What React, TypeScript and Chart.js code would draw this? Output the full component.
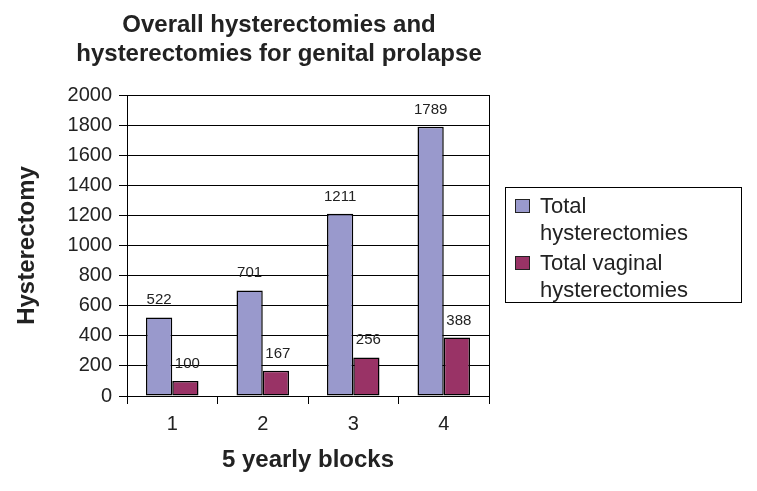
import React, { useEffect, useRef } from "react";
import { Chart, registerables } from "chart.js";

Chart.register(...registerables);

const categories = ["1", "2", "3", "4"];
const totalHysterectomies = [522, 701, 1211, 1789];
const totalVaginal = [100, 167, 256, 388];
const seriesNames = ["Total hysterectomies", "Total vaginal hysterectomies"];
const legendLines = [["Total", "hysterectomies"], ["Total vaginal", "hysterectomies"]];
const titleLines = ["Overall hysterectomies and", "hysterectomies for genital prolapse"];
const xTitle = "5 yearly blocks";
const yTitle = "Hysterectomy";
const colors = ["#9999cc", "#993366"];
const FONT = "'Liberation Sans', Arial, Helvetica, sans-serif";

const extrasPlugin = {
  id: "extras",
  afterDatasetsDraw(chart: any) {
    const { ctx, chartArea } = chart;
    ctx.save();
    ctx.strokeStyle = "#000";
    ctx.lineWidth = 1;
    ctx.beginPath();
    ctx.moveTo(Math.round(chartArea.right) + 0.5, chartArea.top);
    ctx.lineTo(Math.round(chartArea.right) + 0.5, chartArea.bottom);
    ctx.stroke();
    ctx.font = `15px ${FONT}`;
    ctx.fillStyle = "#222";
    ctx.textAlign = "center";
    ctx.textBaseline = "alphabetic";
    chart.data.datasets.forEach((ds: any, di: number) => {
      const meta = chart.getDatasetMeta(di);
      meta.data.forEach((bar: any, i: number) => {
        ctx.fillText(String(ds.data[i]), bar.x + (di === 1 ? 2 : 0), bar.y - 13);
      });
    });
    ctx.restore();
  },
  afterDraw(chart: any) {
    const { ctx } = chart;
    ctx.save();
    ctx.font = `bold 24px ${FONT}`;
    ctx.fillStyle = "#222";
    ctx.textAlign = "center";
    ctx.textBaseline = "alphabetic";
    ctx.fillText(titleLines[0], 279, 32);
    ctx.fillText(titleLines[1], 279, 61);
    ctx.strokeStyle = "#000";
    ctx.lineWidth = 1;
    ctx.strokeRect(505.5, 187.5, 236, 115);
    const itemBases = [213, 270];
    legendLines.forEach((lines, i) => {
      const base = itemBases[i];
      ctx.fillStyle = colors[i];
      ctx.fillRect(515, base - 14, 15, 14);
      ctx.strokeStyle = "#222";
      ctx.strokeRect(515.5, base - 13.5, 14, 13);
      ctx.fillStyle = "#222";
      ctx.font = `22px ${FONT}`;
      ctx.textAlign = "left";
      lines.forEach((l, j) => {
        ctx.fillText(l, 540, base + j * 27);
      });
    });
    ctx.restore();
  },
};

export default function App() {
  const canvasRef = useRef<HTMLCanvasElement | null>(null);

  useEffect(() => {
    if (!canvasRef.current) return;
    const chart = new Chart(canvasRef.current, {
      type: "bar",
      data: {
        labels: categories,
        datasets: [
          {
            label: seriesNames[0],
            data: totalHysterectomies,
            backgroundColor: colors[0],
            borderColor: "#000",
            borderWidth: 1.5,
            borderSkipped: false,
          },
          {
            label: seriesNames[1],
            data: totalVaginal,
            backgroundColor: colors[1],
            borderColor: "#000",
            borderWidth: 1.5,
            borderSkipped: false,
          },
        ],
      },
      options: {
        animation: false,
        responsive: true,
        maintainAspectRatio: false,
        layout: { padding: { left: 0, top: 95, right: 268, bottom: 0 } },
        datasets: { bar: { categoryPercentage: 0.58, barPercentage: 1.0 } },
        plugins: {
          legend: { display: false },
          title: { display: false },
          tooltip: { enabled: false },
        },
        scales: {
          x: {
            afterFit: (scale: any) => {
              scale.height = 95;
            },
            grid: {
              offset: true,
              drawOnChartArea: false,
              drawTicks: true,
              tickLength: 8,
              color: "#000",
            },
            border: { display: true, color: "#000" },
            ticks: {
              padding: 8,
              color: "#222",
              font: { family: FONT, size: 20 },
            },
            title: {
              display: true,
              text: xTitle,
              color: "#222",
              font: { family: FONT, size: 24, weight: "bold" },
              padding: { top: 0, bottom: 16 },
            },
          },
          y: {
            min: 0,
            max: 2000,
            afterFit: (scale: any) => {
              scale.width = 127;
            },
            grid: {
              color: "#000",
              lineWidth: 1,
              drawTicks: true,
              tickLength: 8,
            },
            border: { display: true, color: "#000" },
            ticks: {
              stepSize: 200,
              padding: 7,
              color: "#222",
              font: { family: FONT, size: 20 },
              callback: (v: any) => String(v),
            },
            title: {
              display: true,
              text: yTitle,
              color: "#222",
              font: { family: FONT, size: 24, weight: "bold" },
              padding: { top: 13, bottom: 0 },
            },
          },
        },
      },
      plugins: [extrasPlugin],
    });
    return () => chart.destroy();
  }, []);

  return (
    <div style={{ position: "absolute", left: 0, top: 0, width: 757, height: 491, background: "#fff" }}>
      <canvas ref={canvasRef} />
    </div>
  );
}
